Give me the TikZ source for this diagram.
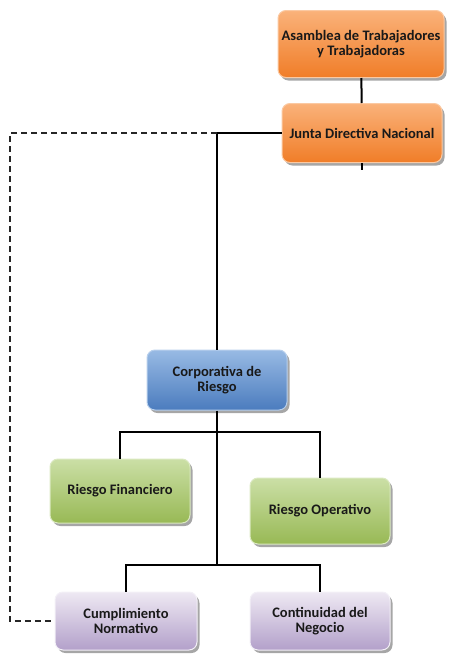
\documentclass[tikz,border=0pt]{standalone}
\usepackage{fontspec}
\setmainfont{Carlito}
\usetikzlibrary{shadows}
\usepackage{xcolor}

\definecolor{orgTop}{HTML}{FAB27A}
\definecolor{orgBot}{HTML}{F07D28}
\definecolor{bluTop}{HTML}{98BAE4}
\definecolor{bluBot}{HTML}{4B7CBE}
\definecolor{grnTop}{HTML}{CBDFA6}
\definecolor{grnBot}{HTML}{98B955}
\definecolor{purTop}{HTML}{EEE9F3}
\definecolor{purBot}{HTML}{B3A0CA}

\begin{document}
\begin{tikzpicture}[x=1pt, y=-1pt,
        font=\bfseries\fontsize{14.5}{15.5}\selectfont,
        unitbox/.style={rounded corners=8pt, align=center, text=black!90, line width=1pt,
            drop shadow={opacity=0.7, shadow xshift=2.5pt, shadow yshift=-3pt}},
        orgbox/.style={unitbox, draw=orgTop!70!white, top color=orgTop, bottom color=orgBot},
        blubox/.style={unitbox, draw=bluTop!70!white, top color=bluTop, bottom color=bluBot},
        grnbox/.style={unitbox, draw=grnTop!70!white, top color=grnTop, bottom color=grnBot},
        purbox/.style={unitbox, draw=purTop!70!white, top color=purTop, bottom color=purBot},
        conn/.style={line width=2pt, black},
        dashconn/.style={line width=1.2pt, black!85, dash pattern=on 6pt off 4pt}]
        \useasboundingbox (0,0) rectangle (450,654);

        \node[orgbox, minimum width=166pt, minimum height=67pt] (asamblea) at (361,44) {Asamblea de Trabajadores\\y Trabajadoras};
        \node[orgbox, minimum width=160pt, minimum height=59pt] (junta) at (362,133) {Junta Directiva Nacional};
        \node[blubox, minimum width=140pt, minimum height=60pt] (corp) at (217,380) {Corporativa de\\Riesgo};
        \node[grnbox, minimum width=140pt, minimum height=64pt] (fin) at (120,491) {Riesgo Financiero};
        \node[grnbox, minimum width=140pt, minimum height=66pt] (oper) at (320,511) {Riesgo Operativo};
        \node[purbox, minimum width=142pt, minimum height=58pt] (cumpl) at (126,621) {Cumplimiento\\Normativo};
        \node[purbox, minimum width=140pt, minimum height=58pt] (cont) at (320,621) {Continuidad del\\Negocio};

        \coordinate (stub) at (362,170);
        \coordinate (dl) at (10,133);
        \coordinate (bus1) at (217,432);
        \coordinate (bus2) at (217,565);

        \draw[conn] (asamblea) -- (junta);
        \draw[conn] (junta.south) -- (stub);
        \draw[conn] (junta.west) -| (corp.north);
        \draw[dashconn] (corp.north |- junta.west) -- (dl) |- (cumpl.west);

        \draw[conn] (corp.south) -- (bus2);
        \draw[conn] (fin.north) |- (bus1) -| (oper.north);
        \draw[conn] (cumpl.north) |- (bus2) -| (cont.north);
    \end{tikzpicture}
\end{document}
